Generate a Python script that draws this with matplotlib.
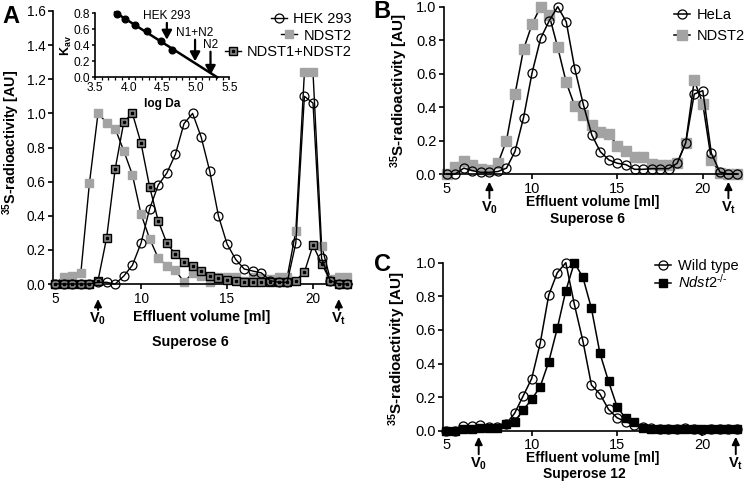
import matplotlib
matplotlib.use('Agg')
import matplotlib.pyplot as plt
import numpy as np

plt.rcParams['font.family'] = 'Liberation Sans'
plt.rcParams['mathtext.fontset'] = 'custom'
plt.rcParams['mathtext.rm'] = 'Liberation Sans'
plt.rcParams['mathtext.bf'] = 'Liberation Sans:bold'
plt.rcParams['mathtext.it'] = 'Liberation Sans:italic'

# ---------------- data ----------------
vol = [5.0, 5.5, 6.0, 6.5, 7.0, 7.5, 8.0, 8.5, 9.0, 9.5, 10.0, 10.5, 11.0, 11.5,
       12.0, 12.5, 13.0, 13.5, 14.0, 14.5, 15.0, 15.5, 16.0, 16.5, 17.0, 17.5,
       18.0, 18.5, 19.0, 19.5, 20.0, 20.5, 21.0, 21.5, 22.0]

# panel A (Superose 6)
a_hek = [0, 0, 0, 0, 0, 0.01, 0.01, 0.0, 0.047, 0.11, 0.24, 0.44, 0.58, 0.65,
         0.76, 0.94, 1.0, 0.86, 0.66, 0.40, 0.235, 0.145, 0.088, 0.076, 0.065, 0.02,
         0.01, 0.01, 0.24, 1.10, 1.06, 0.15, 0.02, 0.0, 0.0]
a_ndst2 = [0.0, 0.043, 0.049, 0.064, 0.59, 1.0, 0.946, 0.91, 0.78, 0.64, 0.41, 0.266,
           0.152, 0.107, 0.08, 0.012, 0.063, 0.045, 0.012, 0.04, 0.04, 0.04, 0.02, 0.04,
           0.035, 0.03, 0.04, 0.04, 0.31, 1.24, 1.24, 0.225, 0.03, 0.04, 0.04]
a_n1n2 = [0, 0, 0, 0, 0, 0.02, 0.27, 0.675, 0.95, 1.0, 0.825, 0.57, 0.37, 0.24,
          0.174, 0.13, 0.105, 0.076, 0.045, 0.035, 0.025, 0.02, 0.01, 0.01, 0.01, 0.01,
          0.01, 0.01, 0.02, 0.07, 0.227, 0.12, 0.02, 0.0, 0.0]

# inset: calibration
log_da = [3.83, 3.95, 4.10, 4.28, 4.49, 4.64]
kav = [0.79, 0.725, 0.65, 0.575, 0.46, 0.34]
mark_names = ['HEK 293', 'N1+N2', 'N2']
mark_x = [4.57, 4.99, 5.22]
mark_tip = [0.47, 0.20, 0.03]
mark_tail = [0.68, 0.47, 0.32]
mark_text_y = [0.77, 0.56, 0.40]

# panel B (Superose 6)
b_hela = [0, 0, 0.035, 0.02, 0.01, 0.01, 0.015, 0.035, 0.135, 0.337, 0.605, 0.81,
          0.915, 1.0, 0.91, 0.63, 0.416, 0.233, 0.133, 0.084, 0.064, 0.056, 0.028,
          0.028, 0.032, 0.032, 0.032, 0.064, 0.187, 0.478, 0.498, 0.124, 0.012, 0.0, 0.0]
b_ndst2 = [0, 0.04, 0.08, 0.054, 0.028, 0.024, 0.064, 0.2, 0.478, 0.745, 0.896, 1.0,
           0.95, 0.757, 0.548, 0.406, 0.353, 0.293, 0.253, 0.237, 0.17, 0.137, 0.104,
           0.1, 0.06, 0.056, 0.056, 0.064, 0.187, 0.56, 0.42, 0.084, 0.008, 0.0, 0.0]

# panel C (Superose 12)
c_wt = [0, 0, 0.028, 0.028, 0.032, 0.02, 0.02, 0.04, 0.103, 0.206, 0.31, 0.52,
        0.807, 0.94, 1.0, 0.752, 0.534, 0.272, 0.218, 0.127, 0.077, 0.054, 0.034,
        0.02, 0.014, 0.01, 0.012, 0.01, 0.015, 0.01, 0.005, 0.01, 0.01, 0.01, 0.01]
c_ko = [0, 0, 0.012, 0.012, 0.014, 0.014, 0.014, 0.04, 0.054, 0.123, 0.186, 0.262,
        0.41, 0.609, 0.833, 1.0, 0.913, 0.728, 0.46, 0.294, 0.143, 0.073, 0.05,
        0.014, 0.008, 0.008, 0.008, 0.008, 0.008, 0.008, 0.008, 0.008, 0.008, 0.008, 0.008]

v0_A, vt_A = 7.5, 21.5
v0_B, vt_B = 7.5, 21.5
v0_C, vt_C = 6.9, 21.95

# ---------------- figure ----------------
W, H = 745, 482
fig = plt.figure(figsize=(W / 100, H / 100), dpi=100)


def px_axes(l, t, r, b):
    return fig.add_axes([l / W, 1 - b / H, (r - l) / W, (b - t) / H])


def ftext(x, y, s, **kw):
    fig.text(x / W, 1 - y / H, s, **kw)


def style(ax, fs):
    for s in ['top', 'right']:
        ax.spines[s].set_visible(False)
    for s in ['left', 'bottom']:
        ax.spines[s].set_linewidth(1.2)
    ax.tick_params(direction='out', length=3.5, width=1.2, labelsize=fs, pad=2)
    ax.yaxis.set_major_formatter(matplotlib.ticker.FormatStrFormatter('%.1f'))


def vmark(ax, x, lab, tip, tail, ty):
    tr = ax.get_xaxis_transform()
    ax.annotate('', xy=(x, tip), xytext=(x, tail), xycoords=tr, textcoords=tr,
                arrowprops=dict(arrowstyle='-|>,head_width=0.22,head_length=0.45',
                                lw=1.4, color='k', shrinkA=0, shrinkB=0),
                annotation_clip=False)
    ax.text(x, ty, lab, transform=tr, ha='center', va='top', fontsize=10.5,
            fontweight='bold')


def key(handle, label, x, y, loc, fs=10.5, hl=1.1, **kw):
    return fig.legend([handle], [label], loc=loc, bbox_to_anchor=(x / W, 1 - y / H),
                      frameon=False, borderpad=0, borderaxespad=0, handlelength=hl,
                      handletextpad=0.45, fontsize=fs, **kw)


ylab = r'$^{\mathbf{35}}$S-radioactivity [AU]'
gray = '#a3a3a3'
dgray = '#858585'
lw = 1.0

# ---- panel A ----
axA = px_axes(53.3, 11, 351.7, 284)
h_n1n2, = axA.plot(vol, a_n1n2, color='k', lw=lw, marker='s', ms=6.3, mfc=dgray,
                   mec='k', mew=1.0, clip_on=False, zorder=3)
h_n1n2d, = axA.plot(vol, a_n1n2, ls='none', marker='s', ms=1.6, mfc='k', mec='k',
                    clip_on=False, zorder=3.1)
h_ndst2, = axA.plot(vol, a_ndst2, color='k', lw=lw, marker='s', ms=6.3, mfc=gray,
                    mec=gray, clip_on=False, zorder=2)
h_hek, = axA.plot(vol, a_hek, color='k', lw=lw, marker='o', ms=6.4, mfc='none',
                  mec='k', mew=0.9, clip_on=False, zorder=4)
axA.set_xlim(4.9, 22.25)
axA.set_ylim(0, 1.6)
axA.set_xticks([5, 10, 15, 20])
axA.set_yticks(np.arange(0, 1.61, 0.2))
style(axA, 9.8)
axA.set_ylabel(ylab, fontsize=10.3, fontweight='bold')
axA.yaxis.set_label_coords(-0.104, 0.52)
vmark(axA, v0_A, r'V$_\mathbf{0}$', -0.055, -0.095, -0.098)
vmark(axA, vt_A, r'V$_\mathbf{t}$', -0.055, -0.095, -0.098)
ftext(201.7, 317, 'Effluent volume [ml]', ha='center', va='center', fontsize=10.3,
      fontweight='bold')
ftext(190, 342, 'Superose 6', ha='center', va='center', fontsize=10.3, fontweight='bold')

key(h_hek, 'HEK 293', 352, 19, 'center right')
key(h_ndst2, 'NDST2', 352, 35.5, 'center right')
key((h_n1n2, h_n1n2d), 'NDST1+NDST2', 352, 52.5, 'center right')

# ---- inset ----
axI = px_axes(95, 13.3, 229.3, 77.3)
fit = np.polyfit(log_da, kav, 1)
x_end = -fit[1] / fit[0]
xl = np.array([log_da[0] - 0.03, x_end])
axI.plot(xl, np.polyval(fit, xl), color='k', lw=1.8, clip_on=False)
axI.plot(log_da, kav, ls='none', marker='o', ms=4.8, color='k', clip_on=False)
axI.set_xlim(3.5, 5.5)
axI.set_ylim(0, 0.8)
axI.set_xticks([3.5, 4.0, 4.5, 5.0, 5.5])
axI.set_xticks(np.arange(3.5, 5.51, 0.1), minor=True)
axI.set_yticks([0, 0.2, 0.4, 0.6, 0.8])
style(axI, 8.6)
axI.tick_params(length=2.5, width=1.1, pad=1)
axI.tick_params(which='minor', direction='out', length=1.8, width=0.9)
axI.xaxis.set_major_formatter(matplotlib.ticker.FormatStrFormatter('%.1f'))
axI.set_xlabel('log Da', fontsize=8.6, fontweight='bold', labelpad=3)
axI.set_ylabel(r'K$_{\mathbf{av}}$', fontsize=9, fontweight='bold')
axI.yaxis.set_label_coords(-0.16, 0.5)
for name, mx, tip, tail, ty in zip(mark_names, mark_x, mark_tip, mark_tail, mark_text_y):
    axI.annotate('', xy=(mx, tip), xytext=(mx, tail),
                 arrowprops=dict(arrowstyle='-|>,head_width=0.3,head_length=0.55',
                                 lw=1.6, color='k', shrinkA=0, shrinkB=0),
                 annotation_clip=False)
    axI.text(mx, ty, name, ha='center', va='center', fontsize=8.6, clip_on=False)

# ---- panel B ----
axB = px_axes(444, 6.7, 738.3, 174)
h_bn, = axB.plot(vol, b_ndst2, color='k', lw=1.1, marker='s', ms=6.5, mfc=gray,
                 mec=gray, clip_on=False, zorder=2)
h_bh, = axB.plot(vol, b_hela, color='k', lw=1.1, marker='o', ms=6.5, mfc='none',
                 mec='k', mew=0.9, clip_on=False, zorder=3)
axB.set_xlim(4.84, 22.08)
axB.set_ylim(0, 1.0)
axB.set_xticks([5, 10, 15, 20])
axB.set_yticks(np.arange(0, 1.01, 0.2))
style(axB, 10.5)
axB.set_ylabel(ylab, fontsize=11, fontweight='bold')
axB.yaxis.set_label_coords(-0.116, 0.5)
vmark(axB, v0_B, r'V$_\mathbf{0}$', -0.046, -0.145, -0.152)
vmark(axB, vt_B, r'V$_\mathbf{t}$', -0.046, -0.145, -0.152)
ftext(593, 202, 'Effluent volume [ml]', ha='center', va='center', fontsize=10,
      fontweight='bold')
ftext(588, 218.5, 'Superose 6', ha='center', va='center', fontsize=10, fontweight='bold')
key(h_bh, 'HeLa', 674, 15, 'center left')
key(h_bn, 'NDST2', 674, 36.5, 'center left')

# ---- panel C ----
axC = px_axes(443.5, 262.7, 738, 430.7)
h_ck, = axC.plot(vol, c_ko, color='k', lw=1.1, marker='s', ms=6.3, mfc='k', mec='k',
                 clip_on=False, zorder=2)
h_cw, = axC.plot(vol, c_wt, color='k', lw=1.1, marker='o', ms=6.5, mfc='none',
                 mec='k', mew=0.9, clip_on=False, zorder=3)
axC.set_xlim(4.84, 22.08)
axC.set_ylim(0, 1.0)
axC.set_xticks([5, 10, 15, 20])
axC.set_yticks(np.arange(0, 1.01, 0.2))
style(axC, 10.5)
axC.set_ylabel(ylab, fontsize=11, fontweight='bold')
axC.yaxis.set_label_coords(-0.121, 0.49)
vmark(axC, v0_C, r'V$_\mathbf{0}$', -0.036, -0.14, -0.148)
vmark(axC, vt_C, r'V$_\mathbf{t}$', -0.036, -0.14, -0.148)
ftext(593, 458, 'Effluent volume [ml]', ha='center', va='center', fontsize=10,
      fontweight='bold')
ftext(584, 474, 'Superose 12', ha='center', va='center', fontsize=10, fontweight='bold')
key(h_cw, 'Wild type', 655, 266, 'center left')
key(h_ck, '$\\mathit{Ndst2}^{\\mathit{\u2010/\u2010}}$', 655, 282, 'center left')

# panel letters
ftext(2, 23, 'A', fontsize=17, fontweight='bold', va='baseline')
ftext(373, 17.5, 'B', fontsize=17, fontweight='bold', va='baseline')
ftext(374, 271, 'C', fontsize=17, fontweight='bold', va='baseline')

fig.savefig('out.png', dpi=100)
